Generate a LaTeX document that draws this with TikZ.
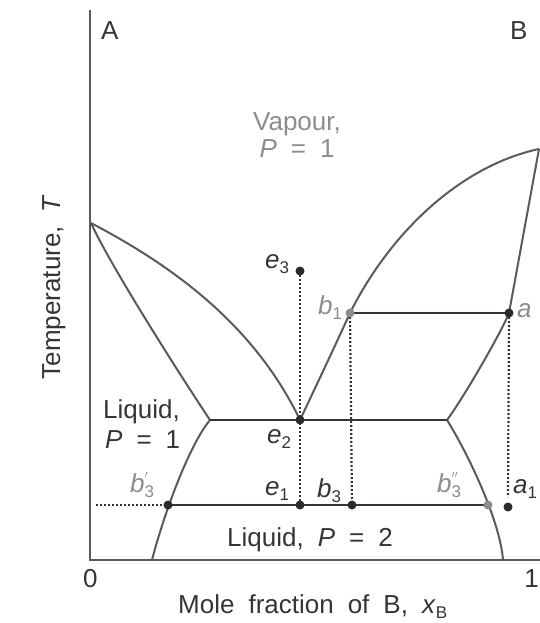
\documentclass[tikz,border=0pt]{standalone}
\usepackage{fontspec}
\setmainfont{Liberation Sans}
\definecolor{curvecol}{HTML}{5A5A5A}
\definecolor{tiecol}{HTML}{333340}
\definecolor{dotcol}{HTML}{2E2A2A}
\definecolor{graycol}{HTML}{8C8C8C}
\definecolor{textcol}{HTML}{353535}
\newcommand\sbs[1]{\raisebox{-5pt}{\fontsize{17}{17}\selectfont #1}}
\newcommand\ssp{\hspace{14pt}}
\begin{document}
\begin{tikzpicture}[x=1pt,y=-1pt,
  curve/.style={draw=curvecol, line width=2pt, line join=round},
  tie/.style={draw=tiecol, line width=2.4pt},
  axis/.style={draw=curvecol, line width=2pt},
  dotline/.style={draw=tiecol, line width=2.2pt, dash pattern=on 2pt off 2pt},
  pt/.style={circle, fill=dotcol, inner sep=0pt, minimum size=9pt},
  gpt/.style={pt, fill=graycol},
  lab/.style={inner sep=0pt, anchor=base west, text=textcol, font=\fontsize{26}{30}\selectfont},
  glab/.style={lab, text=graycol},
]
\useasboundingbox (0,0) rectangle (539,623);
% key coordinates
\coordinate (Ytop) at (90,10);
\coordinate (O) at (90,560);
\coordinate (Xend) at (560,560);
\coordinate (TA) at (91,223);
\coordinate (TB) at (539,149);
\coordinate (cl) at (210,420);
\coordinate (cr) at (447,420);
\coordinate (e3) at (300,271);
\coordinate (b1) at (350,313);
\coordinate (a) at (509,313);
\coordinate (e2) at (300,420);
\coordinate (e1) at (300,505);
\coordinate (b3) at (352,505);
\coordinate (b3p) at (168,505);
\coordinate (b3pp) at (488,505);
\coordinate (a1) at (508,507);
\coordinate (dl) at (96,505);
\coordinate (aend) at (508,497);
\coordinate (fl) at (152,560);
\coordinate (fr) at (503,560);
% axes
\draw[axis] (Ytop) -- (O) -- (Xend);
% curves
\draw[curve] (TA) .. controls (165,262) and (252,320) .. (e2);
\draw[curve] (TA) .. controls (110,265) and (180,375) .. (cl);
\draw[curve] (e2) .. controls (317,384) and (335,346) .. (b1)
                  .. controls (390,233) and (460,166) .. (TB);
\draw[curve] (cr) .. controls (462,400) and (500,335) .. (a) -- (TB);
\draw[curve] (cl) .. controls (190,444) and (165,510) .. (fl);
\draw[curve] (cr) .. controls (467,452) and (500,520) .. (fr);
% dotted lines
\draw[dotline] (e3) -- (e1);
\draw[dotline] (b1) -- (b3);
\draw[dotline] (a) -- (aend);
\draw[dotline] (dl) -- (b3p);
% tie lines
\draw[tie] (b1) -- (a);
\draw[tie] (cl) -- (cr);
\draw[tie] (b3p) -- (b3pp);
% points
\node[pt] (e3d) at (e3) {};
\node[gpt] (b1d) at (b1) {};
\node[pt] (ad) at (a) {};
\node[pt] (e2d) at (e2) {};
\node[pt] (e1d) at (e1) {};
\node[pt] (b3d) at (b3) {};
\node[pt] (b3pd) at (b3p) {};
\node[gpt] (b3ppd) at (b3pp) {};
\node[pt] (a1d) at (a1) {};
% texts
\node[lab] (tA) at (101,40) {A};
\node[lab] (tB) at (510,40) {B};
\node[glab, anchor=base] (tvap) at (297,130) {Vapour,};
\node[glab, anchor=base] (tvapP) at (297,157) {\textit{P}\ssp=\ssp1};
\node[lab] (tliq) at (103,418) {Liquid,};
\node[lab] (tliqP) at (105,448) {\textit{P}\ssp=\ssp1};
\node[lab] (tliq2) at (227,546) {Liquid,\ssp\textit{P}\ssp=\ssp2};
\node[lab] (tzero) at (83,587) {0};
\node[lab, anchor=base east] (tone) at (539,587) {1};
\node[lab] (txlab) at (178,613) {Mole\hspace{14pt}fraction\hspace{14pt}of\hspace{14pt}B,\hspace{14pt}\textit{x}\sbs{B}};
\node[lab, anchor=center, rotate=90] (tylab) at (54,287) {Temperature,\hspace{14pt}\textit{T}};
\node[lab] (le3) at (265,268) {\textit{e}\sbs{3}};
\node[glab] (lb1) at (318,314) {\textit{b}\sbs{1}};
\node[glab] (la) at (517,317) {\textit{a}};
\node[lab] (le2) at (267,443) {\textit{e}\sbs{2}};
\node[lab] (le1) at (265,495) {\textit{e}\sbs{1}};
\node[lab] (lb3) at (317,497) {\textit{b}\sbs{3}};
\node[glab] (lb3p) at (130,492) {\textit{b}\rlap{\raisebox{7pt}{\fontsize{16}{16}\selectfont$'$}}\sbs{3}};
\node[glab] (lb3pp) at (437,492) {\textit{b}\rlap{\raisebox{7pt}{\fontsize{16}{16}\selectfont$''$}}\sbs{3}};
\node[lab] (la1) at (513,493) {\textit{a}\sbs{1}};
\end{tikzpicture}
\end{document}
